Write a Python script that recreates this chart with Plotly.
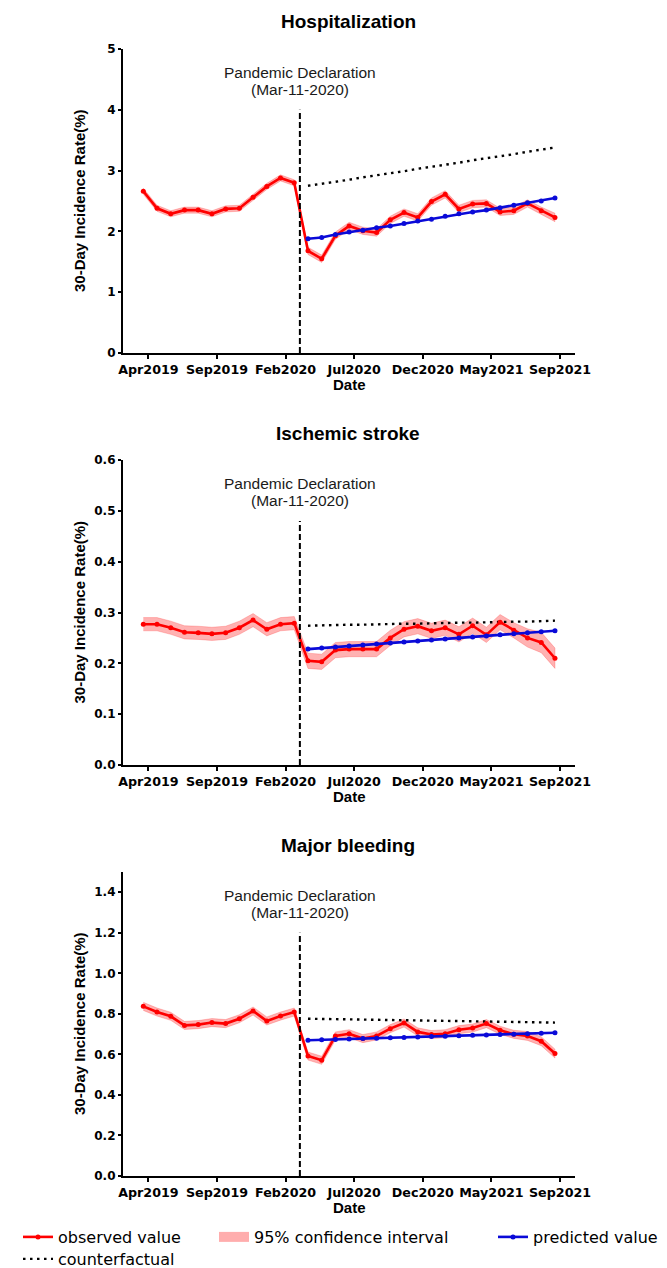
import plotly.graph_objects as go

# ---------------- data ----------------
months = ["Mar2019", "Apr2019", "May2019", "Jun2019", "Jul2019", "Aug2019", "Sep2019", "Oct2019",
          "Nov2019", "Dec2019", "Jan2020", "Feb2020", "Mar2020", "Apr2020", "May2020", "Jun2020",
          "Jul2020", "Aug2020", "Sep2020", "Oct2020", "Nov2020", "Dec2020", "Jan2021", "Feb2021",
          "Mar2021", "Apr2021", "May2021", "Jun2021", "Jul2021", "Aug2021", "Sep2021"]
N_PRE = 12  # Mar2019-Feb2020 before the declaration

tick_labels = ["Apr2019", "Sep2019", "Feb2020", "Jul2020", "Dec2020", "May2021", "Sep2021"]
tick_pos = [0.37, 5.37, 10.37, 15.37, 20.37, 25.37, 30.37]
PANDEMIC_X = 11.41

# Hospitalization
hosp_obs = [2.66, 2.38, 2.29, 2.35, 2.35, 2.29, 2.37, 2.38, 2.56, 2.74, 2.88, 2.80,
            1.68, 1.55, 1.93, 2.09, 2.01, 1.98, 2.19, 2.31, 2.23, 2.49, 2.61, 2.37,
            2.45, 2.46, 2.32, 2.34, 2.46, 2.34, 2.23]
hosp_lo = [2.61, 2.33, 2.24, 2.30, 2.30, 2.24, 2.32, 2.33, 2.51, 2.69, 2.83, 2.75,
           1.62, 1.49, 1.87, 2.03, 1.95, 1.92, 2.13, 2.25, 2.17, 2.43, 2.55, 2.31,
           2.39, 2.40, 2.26, 2.28, 2.40, 2.28, 2.16]
hosp_hi = [2.71, 2.43, 2.34, 2.40, 2.40, 2.34, 2.42, 2.43, 2.61, 2.79, 2.93, 2.85,
           1.74, 1.61, 1.99, 2.15, 2.07, 2.04, 2.25, 2.37, 2.29, 2.55, 2.67, 2.43,
           2.51, 2.52, 2.38, 2.40, 2.52, 2.40, 2.30]
hosp_pred = [1.88, 1.90, 1.95, 1.99, 2.02, 2.06, 2.09, 2.13, 2.17, 2.20, 2.25, 2.29,
             2.32, 2.35, 2.39, 2.43, 2.47, 2.50, 2.55]
hosp_cf = [2.75, 2.78, 2.82, 2.85, 2.89, 2.92, 2.96, 2.99, 3.03, 3.06, 3.10, 3.13,
           3.17, 3.20, 3.24, 3.27, 3.31, 3.34, 3.38]

# Ischemic stroke
isch_obs = [0.277, 0.277, 0.270, 0.261, 0.260, 0.258, 0.260, 0.270, 0.285, 0.267, 0.277, 0.279,
            0.205, 0.203, 0.226, 0.228, 0.228, 0.228, 0.250, 0.267, 0.273, 0.264, 0.270, 0.257,
            0.274, 0.256, 0.281, 0.265, 0.250, 0.241, 0.210]
isch_lo = [0.264, 0.264, 0.257, 0.248, 0.247, 0.245, 0.247, 0.257, 0.272, 0.254, 0.264, 0.266,
           0.190, 0.188, 0.211, 0.213, 0.213, 0.213, 0.235, 0.252, 0.258, 0.249, 0.255, 0.242,
           0.259, 0.241, 0.266, 0.250, 0.232, 0.221, 0.190]
isch_hi = [0.290, 0.290, 0.283, 0.274, 0.273, 0.271, 0.273, 0.283, 0.298, 0.280, 0.290, 0.292,
           0.220, 0.218, 0.241, 0.243, 0.243, 0.243, 0.265, 0.282, 0.288, 0.279, 0.285, 0.272,
           0.289, 0.271, 0.296, 0.280, 0.268, 0.261, 0.230]
isch_pred = [0.228, 0.230, 0.232, 0.234, 0.236, 0.238, 0.240, 0.242, 0.244, 0.246, 0.248, 0.250,
             0.252, 0.254, 0.256, 0.258, 0.260, 0.262, 0.264]
isch_cf = [0.274, 0.275, 0.275, 0.276, 0.276, 0.277, 0.277, 0.278, 0.278, 0.279, 0.279, 0.280,
           0.280, 0.281, 0.281, 0.282, 0.282, 0.283, 0.284]

# Major bleeding
bleed_obs = [0.837, 0.809, 0.788, 0.743, 0.747, 0.757, 0.752, 0.776, 0.814, 0.765, 0.789, 0.809,
             0.592, 0.571, 0.691, 0.702, 0.678, 0.691, 0.727, 0.755, 0.711, 0.698, 0.702, 0.722,
             0.730, 0.752, 0.719, 0.699, 0.691, 0.665, 0.604]
bleed_lo = [0.817, 0.789, 0.768, 0.723, 0.727, 0.737, 0.732, 0.756, 0.794, 0.745, 0.769, 0.789,
            0.572, 0.551, 0.671, 0.682, 0.658, 0.671, 0.707, 0.735, 0.691, 0.678, 0.682, 0.702,
            0.710, 0.732, 0.699, 0.679, 0.669, 0.643, 0.582]
bleed_hi = [0.857, 0.829, 0.808, 0.763, 0.767, 0.777, 0.772, 0.796, 0.834, 0.785, 0.809, 0.829,
            0.612, 0.591, 0.711, 0.722, 0.698, 0.711, 0.747, 0.775, 0.731, 0.718, 0.722, 0.742,
            0.750, 0.772, 0.739, 0.719, 0.713, 0.687, 0.626]
bleed_pred = [0.670, 0.672, 0.674, 0.676, 0.678, 0.680, 0.682, 0.684, 0.686, 0.688, 0.690, 0.692,
              0.694, 0.696, 0.698, 0.700, 0.702, 0.704, 0.707]
bleed_cf = [0.776, 0.775, 0.774, 0.773, 0.772, 0.771, 0.770, 0.769, 0.768, 0.767, 0.766, 0.765,
            0.764, 0.763, 0.762, 0.761, 0.760, 0.759, 0.757]

# ---------------- layout constants ----------------
OFF = 8                      # page body margin
W, H = 667 - OFF, 1268 - OFF


def fx(xs):  # screen x -> paper fraction
    return (xs - OFF) / W


def fy(ys):  # screen y -> paper fraction
    return 1 - (ys - OFF) / H


ARIAL = "Liberation Sans, Arial, sans-serif"
DEJAVU = "DejaVu Sans, sans-serif"
RED = "#ff0000"
BLUE = "#0a0ad8"
BAND = "rgba(255,0,0,0.30)"

X_LEFT, X_RIGHT = 123, 575
x_domain = [fx(X_LEFT), fx(X_RIGHT)]
panels = [
    dict(title="Hospitalization", obs=hosp_obs, lo=hosp_lo, hi=hosp_hi, pred=hosp_pred, cf=hosp_cf,
         yrange=[0, 5], dtick=1, fmt="d", top=49, bottom=353, vtop=4),
    dict(title="Ischemic stroke", obs=isch_obs, lo=isch_lo, hi=isch_hi, pred=isch_pred, cf=isch_cf,
         yrange=[0, 0.6], dtick=0.1, fmt=".1f", top=460, bottom=765, vtop=0.48),
    dict(title="Major bleeding", obs=bleed_obs, lo=bleed_lo, hi=bleed_hi, pred=bleed_pred, cf=bleed_cf,
         yrange=[0, 1.5], dtick=0.2, fmt=".1f", top=872, bottom=1176, vtop=1.2),
]

x_all = list(range(len(months)))
x_post = x_all[N_PRE:]

fig = go.Figure()
annotations = []
shapes = []

for i, p in enumerate(panels):
    n = "" if i == 0 else str(i + 1)
    xa, ya = "x" + n, "y" + n
    first = i == 0
    # confidence band
    fig.add_trace(go.Scatter(
        x=x_all + x_all[::-1], y=p["hi"] + p["lo"][::-1], xaxis=xa, yaxis=ya,
        fill="toself", fillcolor=BAND, line=dict(color="rgba(255,0,0,0.25)", width=0.8),
        mode="lines", showlegend=False, hoverinfo="skip"))
    # counterfactual
    fig.add_trace(go.Scatter(
        x=x_post, y=p["cf"], xaxis=xa, yaxis=ya, mode="lines",
        line=dict(color="black", width=2.4, dash="2.5px,4.5px"),
        name="counterfactual", legend="legend4", showlegend=first))
    # observed
    fig.add_trace(go.Scatter(
        x=x_all, y=p["obs"], xaxis=xa, yaxis=ya, mode="lines+markers",
        line=dict(color=RED, width=2.6), marker=dict(color=RED, size=5),
        name="observed value", legend="legend", showlegend=first))
    # predicted
    fig.add_trace(go.Scatter(
        x=x_post, y=p["pred"], xaxis=xa, yaxis=ya, mode="lines+markers",
        line=dict(color=BLUE, width=2.6), marker=dict(color=BLUE, size=5),
        name="predicted value", legend="legend3", showlegend=first))

    ydom = [fy(p["bottom"]), fy(p["top"])]
    ph = p["bottom"] - p["top"]
    pw = X_RIGHT - X_LEFT
    axis_common = dict(showline=True, linecolor="black", linewidth=2.2, ticks="outside",
                       tickcolor="black", tickwidth=2, showgrid=False, zeroline=False,
                       fixedrange=True)
    fig.layout["xaxis" + n] = dict(
        axis_common, domain=x_domain, anchor=ya, range=[-1.48, 31.46],
        tickmode="array", tickvals=tick_pos, ticktext=tick_labels, ticklen=4,
        tickfont=dict(family=DEJAVU, size=12.7, color="black", weight="bold"))
    fig.layout["yaxis" + n] = dict(
        axis_common, domain=ydom, anchor=xa, range=p["yrange"], dtick=p["dtick"], tick0=0,
        tickformat=p["fmt"], ticklen=3,
        tickfont=dict(family=DEJAVU, size=12, color="black", weight="bold"))

    # pandemic declaration line
    shapes.append(dict(type="line", xref=xa, yref=ya, x0=PANDEMIC_X, x1=PANDEMIC_X,
                       y0=0, y1=p["vtop"], line=dict(color="black", width=2, dash="6px,3px")))

    # titles & labels
    annotations.append(dict(text="<b>" + p["title"] + "</b>", xref="paper", yref="paper",
                            x=fx(348), y=fy(p["top"] - 27), showarrow=False,
                            font=dict(family=ARIAL, size=19, color="black"),
                            xanchor="center", yanchor="middle"))
    annotations.append(dict(text="Pandemic Declaration", xref=xa, yref=ya + " domain",
                            x=PANDEMIC_X, y=1 - 23 / ph, showarrow=False,
                            font=dict(family=ARIAL, size=15.5, color="#1a1a1a"),
                            xanchor="center", yanchor="middle"))
    annotations.append(dict(text="(Mar-11-2020)", xref=xa, yref=ya + " domain",
                            x=PANDEMIC_X, y=1 - 40.5 / ph, showarrow=False,
                            font=dict(family=ARIAL, size=15.5, color="#1a1a1a"),
                            xanchor="center", yanchor="middle"))
    annotations.append(dict(text="<b>Date</b>", xref=xa + " domain", yref=ya + " domain",
                            x=0.5, y=-31 / ph, showarrow=False,
                            font=dict(family=ARIAL, size=15, color="black"),
                            xanchor="center", yanchor="middle"))
    annotations.append(dict(text="<b>30-Day Incidence Rate(%)</b>", xref=xa + " domain",
                            yref=ya + " domain", x=(79 - X_LEFT) / pw, y=0.5, showarrow=False,
                            textangle=-90, font=dict(family=ARIAL, size=15, color="black"),
                            xanchor="center", yanchor="middle"))

# legend-only entry for the confidence band
fig.add_trace(go.Scatter(x=[None], y=[None], mode="lines",
                         line=dict(color="rgba(255,0,0,0.32)", width=15),
                         name="95% confidence interval", legend="legend2", showlegend=True))

leg_common = dict(orientation="h", xanchor="left", yanchor="middle", bgcolor="rgba(0,0,0,0)",
                  font=dict(family=DEJAVU, size=16, color="black"), borderwidth=0)
fig.update_layout(
    width=W, height=H, paper_bgcolor="white", plot_bgcolor="white",
    margin=dict(l=0, r=0, t=0, b=0, autoexpand=False),
    annotations=annotations, shapes=shapes,
    legend=dict(leg_common, x=fx(18), y=fy(1237)),
    legend2=dict(leg_common, x=fx(214), y=fy(1237)),
    legend3=dict(leg_common, x=fx(493), y=fy(1237)),
    legend4=dict(leg_common, x=fx(18), y=fy(1259)),
)

fig.write_html("out.html")
